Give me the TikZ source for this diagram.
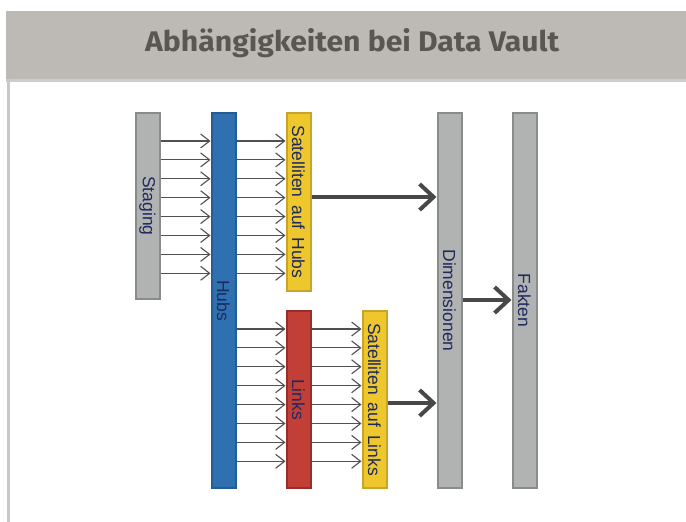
\documentclass[tikz,border=0pt]{standalone}
\usepackage{fontspec}
\usepackage{graphicx}
\usetikzlibrary{arrows.meta}
\setmainfont{Liberation Sans}
\newfontfamily\titlefont{Fira Sans}[BoldFont={* Bold}]
\definecolor{bandc}{HTML}{BDB9B4}
\definecolor{bandline}{HTML}{CFCDCB}
\definecolor{borderc}{HTML}{C8C8C8}
\definecolor{titlec}{HTML}{5A5651}
\definecolor{grayfill}{HTML}{B1B3B2}
\definecolor{graydraw}{HTML}{8A8C8B}
\definecolor{bluefill}{HTML}{2F70B0}
\definecolor{bluedraw}{HTML}{245C94}
\definecolor{yelfill}{HTML}{EEC72C}
\definecolor{yeldraw}{HTML}{C9A42B}
\definecolor{redfill}{HTML}{C23F38}
\definecolor{reddraw}{HTML}{982E2A}
\definecolor{navy}{HTML}{1E2A5E}
\definecolor{thinc}{HTML}{505050}
\definecolor{thickc}{HTML}{484848}
\begin{document}
\begin{tikzpicture}[x=1pt,y=-1pt,
  bar/.style={rectangle, inner sep=0pt, minimum width=24pt, line width=2pt},
  gbox/.style={bar, fill=grayfill, draw=graydraw},
  bbox/.style={bar, fill=bluefill, draw=bluedraw},
  ybox/.style={bar, fill=yelfill, draw=yeldraw},
  rbox/.style={bar, fill=redfill, draw=reddraw},
  lbl/.style={rotate=-90, inner sep=0pt, text=navy, font=\fontsize{17.5pt}{20pt}\selectfont},
  thinarrow/.style={draw=thinc, line width=1.1pt, -{Straight Barb[length=9pt,width=14pt]}},
  thickarrow/.style={draw=thickc, line width=4pt, -{Straight Barb[length=14pt,width=26pt]}}
]
\useasboundingbox (0,0) rectangle (686,522);
% header
\fill[bandc] (6,11) rectangle (686,79);
\fill[bandline] (6,79) rectangle (686,82);
\fill[borderc] (7,79) rectangle (10,522);
\node[anchor=base west, inner sep=0pt, text=titlec] (title) at (145,52)
  {\resizebox{414pt}{23pt}{\titlefont\bfseries Abhängigkeiten bei Data Vault}};
% boxes
\node[gbox, minimum height=186pt] (staging) at (147.5,206) {};
\node[bbox, minimum height=375pt] (hubs) at (223.5,300.5) {};
\node[ybox, minimum height=178pt] (sathubs) at (298.5,202) {};
\node[rbox, minimum height=177pt] (links) at (298.5,399.5) {};
\node[ybox, minimum height=177pt] (satlinks) at (374.5,399.5) {};
\node[gbox, minimum height=375pt] (dim) at (449.5,300.5) {};
\node[gbox, minimum height=375pt] (fakten) at (524.5,300.5) {};
% labels
\node[lbl] (lstaging) at (staging.center) {Staging};
\node[lbl] (lhubs) at (hubs.center) {Hubs};
\node[lbl] (lsathubs) at (sathubs.center) {Satelliten\hspace{3pt} auf\hspace{3pt} Hubs};
\node[lbl] (llinks) at (links.center) {Links};
\node[lbl] (lsatlinks) at (satlinks.center) {Satelliten\hspace{3pt} auf\hspace{3pt} Links};
\node[lbl] (ldim) at (dim.center) {Dimensionen};
\node[lbl] (lfakten) at (fakten.center) {Fakten};
% thin arrows
\foreach \i in {0,...,7}{
  \pgfmathsetmacro\ya{141+18.9*\i}
  \pgfmathsetmacro\yb{329+18.9*\i}
  \draw[thinarrow] (staging.east |- 0,\ya) -- (hubs.west |- 0,\ya);
  \draw[thinarrow] (hubs.east |- 0,\ya) -- (sathubs.west |- 0,\ya);
  \draw[thinarrow] (hubs.east |- 0,\yb) -- (links.west |- 0,\yb);
  \draw[thinarrow] (links.east |- 0,\yb) -- (satlinks.west |- 0,\yb);
}
% thick arrows
\draw[thickarrow] (sathubs.east |- 0,197) -- (dim.west |- 0,197);
\draw[thickarrow] (dim.east |- 0,300) -- (fakten.west |- 0,300);
\draw[thickarrow] (satlinks.east |- 0,403) -- (dim.west |- 0,403);
\end{tikzpicture}
\end{document}
